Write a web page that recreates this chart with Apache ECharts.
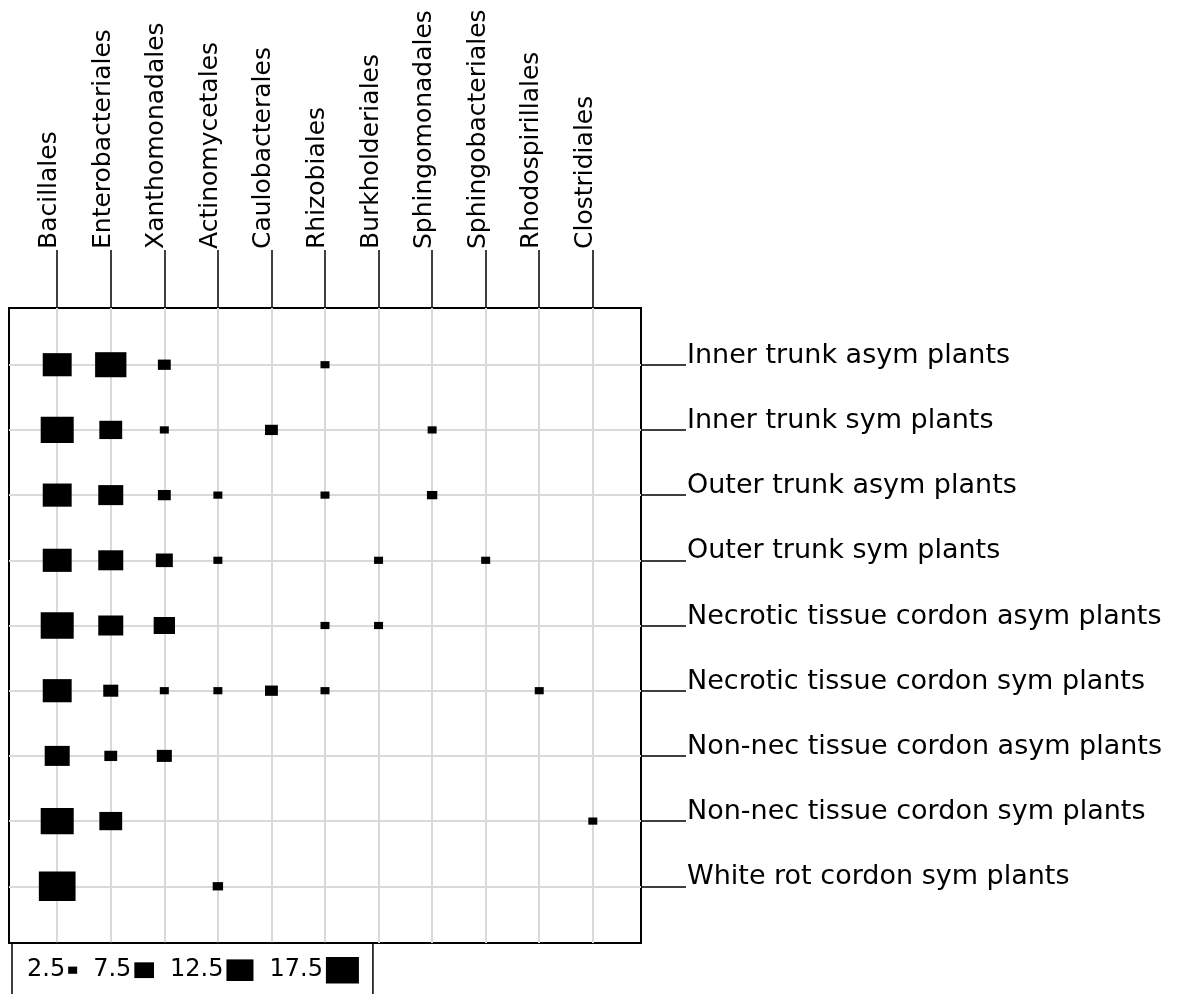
<!DOCTYPE html>
<html>
<head>
<meta charset="utf-8">
<script src="https://cdn.jsdelivr.net/npm/echarts@6/dist/echarts.min.js"></script>
<style>
  html, body { margin: 0; padding: 0; background: #fff; }
  #chart { width: 1191px; height: 994px; }
</style>
</head>
<body>
<div id="chart"></div>
<script>
// Bacterial orders (columns)
const categories = ['Bacillales', 'Enterobacteriales', 'Xanthomonadales', 'Actinomycetales',
  'Caulobacterales', 'Rhizobiales', 'Burkholderiales', 'Sphingomonadales',
  'Sphingobacteriales', 'Rhodospirillales', 'Clostridiales'];

// Sample types (rows, top to bottom)
const samples = ['Inner trunk asym plants', 'Inner trunk sym plants', 'Outer trunk asym plants',
  'Outer trunk sym plants', 'Necrotic tissue cordon asym plants', 'Necrotic tissue cordon sym plants',
  'Non-nec tissue cordon asym plants', 'Non-nec tissue cordon sym plants', 'White rot cordon sym plants'];

// Relative abundance per sample (one value per order; null = absent)
const innerTrunkAsym   = [14,   16,   4,    null, null, 2.5,  null, null, null, null, null];
const innerTrunkSym    = [17.5, 9.5,  2.5,  null, 4,    null, null, 2.5,  null, null, null];
const outerTrunkAsym   = [14,   11,   4,    2.5,  null, 2.5,  null, 3,    null, null, null];
const outerTrunkSym    = [14,   11,   6,    2.5,  null, null, 2.5,  null, 2.5,  null, null];
const necroticAsym     = [17.5, 11,   8.5,  null, null, 2.5,  2.5,  null, null, null, null];
const necroticSym      = [14,   5,    2.5,  2.5,  4,    2.5,  null, null, null, 2.5,  null];
const nonNecAsym       = [11,   4,    5,    null, null, null, null, null, null, null, null];
const nonNecSym        = [17.5, 9.5,  null, null, null, null, null, null, null, null, 2.5];
const whiteRotSym      = [21,   null, null, 3,    null, null, null, null, null, null, null];

const valueRows = [innerTrunkAsym, innerTrunkSym, outerTrunkAsym, outerTrunkSym,
  necroticAsym, necroticSym, nonNecAsym, nonNecSym, whiteRotSym];

// Size key values
const keyValues = [2.5, 7.5, 12.5, 17.5];

function boxSize(v) {
  const w = 9.23 * Math.sqrt(v) - 5.6;
  return [w, w * 0.8];
}

const points = [];
valueRows.forEach((row, r) => {
  row.forEach((v, c) => {
    if (v != null) points.push([c, r, v]);
  });
});

const colIdx = categories.map((_, i) => i);
const rowIdx = samples.map((_, i) => i);

const rich = { t: { fontFamily: 'DejaVu Sans', fontSize: 24, color: '#000', padding: [0, 3, 0, 0] } };
keyValues.forEach((v, i) => {
  const s = boxSize(v);
  rich['k' + i] = { width: s[0], height: s[1], backgroundColor: '#000' };
});

const keySeries = keyValues.map(v => ({ name: String(v), type: 'scatter', data: [] }));

const chart = echarts.init(document.getElementById('chart'), null, { renderer: 'canvas' });
chart.setOption({
  backgroundColor: '#fff',
  animation: false,
  grid: {
    left: 9, right: 550, top: 308, bottom: 51,
    show: true, borderColor: '#000', borderWidth: 2, backgroundColor: 'transparent'
  },
  legend: {
    left: 12, top: 943,
    orient: 'horizontal',
    selectedMode: false,
    icon: 'none',
    itemWidth: 0, itemHeight: 0,
    itemGap: 11,
    padding: [14, 14, 40, 10],
    borderColor: '#000', borderWidth: 1.5,
    data: keyValues.map(String),
    formatter: name => '{t|' + name + '}{k' + keyValues.indexOf(Number(name)) + '|}',
    textStyle: { rich: rich, fontFamily: 'DejaVu Sans', fontSize: 24, color: '#000' }
  },
  xAxis: {
    type: 'value',
    position: 'top',
    min: -0.9, max: 10.9,
    axisLine: { show: false, onZero: false },
    axisTick: { show: true, inside: false, length: 58, customValues: colIdx,
      lineStyle: { color: '#000', width: 1.5 } },
    axisLabel: {
      customValues: colIdx,
      rotate: -90, margin: 59,
      formatter: v => categories[Math.round(v)],
      fontFamily: 'DejaVu Sans', fontSize: 25, color: '#000',
      verticalAlign: 'bottom', lineHeight: 15
    },
    splitLine: { show: true, lineStyle: { color: '#d9d9d9', width: 2 } }
  },
  yAxis: {
    type: 'value',
    position: 'right',
    inverse: true,
    min: -0.87, max: 8.87,
    axisLine: { show: false, onZero: false },
    axisTick: { show: true, inside: false, length: 45, customValues: rowIdx,
      lineStyle: { color: '#000', width: 1.5 } },
    axisLabel: {
      customValues: rowIdx,
      margin: 46,
      formatter: v => samples[Math.round(v)],
      fontFamily: 'DejaVu Sans', fontSize: 27, color: '#000',
      verticalAlign: 'bottom', lineHeight: 18
    },
    splitLine: { show: true, lineStyle: { color: '#d9d9d9', width: 2 } }
  },
  series: [{
    type: 'scatter',
    name: 'abundance',
    symbol: 'rect',
    symbolSize: d => boxSize(d[2]),
    itemStyle: { color: '#000', opacity: 1 },
    data: points,
    clip: false,
    z: 5
  }].concat(keySeries)
});
</script>
</body>
</html>
